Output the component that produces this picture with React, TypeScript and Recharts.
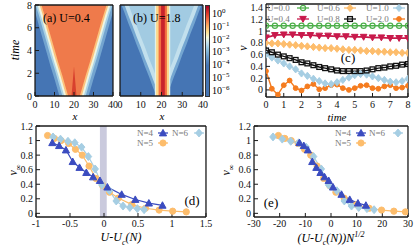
import React from "react";
import { ComposedChart, Area, Line, XAxis, YAxis } from "recharts";

const W = 415;
const H = 249;
const SERIF = "'Liberation Serif', 'DejaVu Serif', serif";

// ---------- (a), (b): light-cone maps, time at which each colour band reaches site x
const sites = [0, 2, 4, 6, 8, 10, 12, 14, 16, 18, 20, 22, 24, 26, 28, 30, 32, 34, 36, 38, 40];
const aMid = [7.4, 6.2, 5.0, 3.8, 2.6, 1.5, 0.3, -0.9, -2.1, -3.2, -4.4, -3.2, -2.1, -0.9, 0.3, 1.5, 2.6, 3.8, 5.0, 6.2, 7.4];
const aLight = [8.2, 7.1, 5.9, 4.7, 3.5, 2.4, 1.2, 0, -1.2, -2.4, -3.5, -2.4, -1.2, 0, 1.2, 2.4, 3.5, 4.7, 5.9, 7.1, 8.2];
const aPale = [8.8, 7.6, 6.5, 5.3, 4.1, 2.9, 1.8, 0.6, -0.6, -1.8, -2.9, -1.8, -0.6, 0.6, 1.8, 2.9, 4.1, 5.3, 6.5, 7.6, 8.8];
const aYellow = [9.4, 8.2, 7.1, 5.9, 4.7, 3.5, 2.4, 1.2, 0, -1.2, -2.4, -1.2, 0, 1.2, 2.4, 3.5, 4.7, 5.9, 7.1, 8.2, 9.4];
const aOrange = [10, 8.8, 7.6, 6.5, 5.3, 4.1, 2.9, 1.8, 0.6, -0.6, -1.8, -0.6, 0.6, 1.8, 2.9, 4.1, 5.3, 6.5, 7.6, 8.8, 10];
const aRedTop = [-9, -9, -9, -9, -9, -9, -9, -9, -9, -1.5, 2.6, -1.5, -9, -9, -9, -9, -9, -9, -9, -9, -9];

const bMid = [8.3, 7.4, 6.4, 5.5, 4.5, 3.6, 2.6, 1.7, 0.7, -0.2, -1.2, -0.2, 0.7, 1.7, 2.6, 3.6, 4.5, 5.5, 6.4, 7.4, 8.3];
const bEdge = [9.0, 8.1, 7.1, 6.2, 5.2, 4.3, 3.3, 2.4, 1.4, 0.5, -0.5, 0.5, 1.4, 2.4, 3.3, 4.3, 5.2, 6.2, 7.1, 8.1, 9.0];
const bInner = [10, 9.0, 8.1, 7.1, 6.2, 5.2, 4.3, 3.3, 2.4, 1.4, 0.5, 1.4, 2.4, 3.3, 4.3, 5.2, 6.2, 7.1, 8.1, 9.0, 10];
// central column of (b): left / right edge of each stripe
const bColLo = [16.8, 17.4, 18.6, 19.8];
const bColHi = [24.2, 23.6, 22.6, 21.6];
const bColColors = ["#e4f1ea", "#fcd88a", "#f26d42", "#c8232c"];

const mapTicksX = [0, 10, 20, 30, 40];
const mapTicksY = [0, 2, 4, 6, 8];
const cbExp = ["0", "−1", "−2", "−3", "−4", "−5", "−6"];

// ---------- (c)
const tCoarse = [0, 0.5, 1, 1.5, 2, 2.5, 3, 3.5, 4, 4.5, 5, 5.5, 6, 6.5, 7, 7.5, 8];
const tFine = [0, 0.33, 0.67, 1, 1.33, 1.67, 2, 2.33, 2.67, 3, 3.33, 3.67, 4, 4.33, 4.67, 5, 5.33, 5.67, 6, 6.33, 6.67, 7, 7.33, 7.67, 8];
const vU00 = [1.09, 1.09, 1.09, 1.09, 1.09, 1.09, 1.09, 1.09, 1.09, 1.09, 1.09, 1.09, 1.09, 1.09, 1.09, 1.09, 1.09];
const vU04 = [0.89, 0.93, 0.94, 0.94, 0.93, 0.93, 0.92, 0.92, 0.91, 0.91, 0.9, 0.9, 0.89, 0.89, 0.88, 0.88, 0.88];
const vU06 = [0.8, 0.79, 0.79, 0.78, 0.77, 0.76, 0.75, 0.74, 0.73, 0.72, 0.71, 0.71, 0.7, 0.69, 0.68, 0.68, 0.67, 0.66, 0.66, 0.65, 0.65, 0.64, 0.64, 0.63, 0.63];
const vU08 = [0.67, 0.64, 0.6, 0.57, 0.54, 0.51, 0.47, 0.45, 0.42, 0.39, 0.37, 0.35, 0.33, 0.32, 0.32, 0.32, 0.32, 0.33, 0.35, 0.37, 0.38, 0.4, 0.41, 0.43, 0.44];
const vU10 = [0.6, 0.55, 0.5, 0.45, 0.4, 0.35, 0.28, 0.24, 0.19, 0.15, 0.11, 0.1, 0.13, 0.17, 0.21, 0.25, 0.27, 0.26, 0.23, 0.2, 0.17, 0.14, 0.13, 0.15, 0.19];
const vU20 = [0.32, 0.02, -0.08, 0.08, 0.16, 0.03, -0.01, 0.06, 0.1, 0.01, 0.03, 0.08, 0.09, 0.03, 0.0, 0.03, 0.07, 0.08, 0.03, 0.02, 0.06, 0.08, 0.03, 0.04, 0.07];
const cTicksX = [0, 1, 2, 3, 4, 5, 6, 7, 8];
const cTicksY = [0, 0.2, 0.4, 0.6, 0.8, 1, 1.2, 1.4];

// ---------- (d), (e)
const n4u = [-0.76, -0.66, -0.56, -0.46, -0.36, -0.26, -0.16, -0.06, 0.05, 0.26, 0.46, 0.66, 0.86];
const n4e = [-12.3, -10.6, -9.0, -7.3, -5.7, -4.1, -2.5, -0.9, 0.8, 4.1, 7.3, 10.5, 13.6];
const n4v = [0.97, 0.93, 0.87, 0.71, 0.63, 0.56, 0.5, 0.45, 0.36, 0.26, 0.19, 0.14, 0.11];
const n5u = [-0.83, -0.73, -0.63, -0.52, -0.42, -0.32, -0.22, -0.12, -0.02, 0.08, 0.21, 0.41, 0.61, 0.81, 1.01, 1.21];
const n5e = [-20.5, -18.0, -15.5, -12.8, -10.3, -7.9, -5.4, -2.9, -0.5, 1.9, 5.1, 10.0, 14.9, 19.7, 24.5, 29.0];
const n5v = [1.07, 1.03, 1.0, 0.96, 0.88, 0.8, 0.65, 0.48, 0.38, 0.29, 0.21, 0.12, 0.07, 0.045, 0.03, 0.02];
const n6u = [-0.75, -0.64, -0.53, -0.43, -0.33, -0.23, -0.13, -0.03, 0.08, 0.18, 0.28, 0.38, 0.49, 0.59];
const n6e = [-22.6, -19.0, -15.7, -12.6, -9.7, -6.8, -3.8, -0.9, 2.3, 5.2, 8.0, 10.8, 14.0, 16.8];
const n6v = [1.05, 1.02, 0.99, 0.97, 0.91, 0.78, 0.61, 0.39, 0.31, 0.17, 0.1, 0.08, 0.065, 0.05];
const critBand = [-0.06, 0.04];
const dTicksX = [-1, -0.5, 0, 0.5, 1, 1.5];
const eTicksX = [-30, -20, -10, 0, 10, 20, 30];
const vTicksY = [0, 0.2, 0.4, 0.6, 0.8, 1, 1.2];

const pts = (xs: number[], vs: number[]) => xs.map((x, i) => ({ x, v: vs[i] }));
const seq = (a: number, b: number, s: number) => {
  const out: number[] = [];
  for (let v = a; v <= b + 1e-9; v += s) out.push(Math.round(v * 1000) / 1000);
  return out;
};

type Box = { x0: number; x1: number; y0: number; y1: number };
const boxA: Box = { x0: 35, x1: 113, y0: 5, y1: 96 };
const boxB: Box = { x0: 120, x1: 203, y0: 5, y1: 96 };
const boxC: Box = { x0: 266, x1: 408, y0: 4, y1: 97 };
const boxD: Box = { x0: 36, x1: 206, y0: 126, y1: 217 };
const boxE: Box = { x0: 254, x1: 408, y0: 126, y1: 217 };
const margin = (b: Box) => ({ left: b.x0, right: W - b.x1, top: b.y0, bottom: H - b.y1 });

// axes need a non-zero size to be drawn; keep it tiny so the plot box stays put
const THIN = 0.01;

function frameAxes(
  xd: number[], yd: number[], xt: number[], yt: number[], xm: number[], ym: number[],
  xLab: boolean, yLab: boolean, xGap = 9,
) {
  const base = { type: "number" as const, allowDataOverflow: true, stroke: "#1a1a1a", interval: 0 as const };
  const border = { stroke: "#1a1a1a", strokeWidth: 1.3 };
  const lab = { fontSize: 10, fill: "#111", fontFamily: SERIF };
  return [
    <XAxis key="xb" xAxisId="x" dataKey="x" {...base} domain={xd} ticks={xt} height={THIN} tickSize={-4} tickMargin={xGap} tick={xLab ? lab : false} axisLine={border} />,
    <XAxis key="xt" xAxisId="xt" orientation="top" {...base} domain={xd} ticks={xt} height={THIN} tickSize={-4} tick={false} axisLine={border} />,
    <XAxis key="xbm" xAxisId="xbm" {...base} domain={xd} ticks={xm} height={THIN} tickSize={-2} tick={false} axisLine={false} />,
    <XAxis key="xtm" xAxisId="xtm" orientation="top" {...base} domain={xd} ticks={xm} height={THIN} tickSize={-2} tick={false} axisLine={false} />,
    <YAxis key="yl" yAxisId="y" {...base} domain={yd} ticks={yt} width={THIN} tickSize={-4} tickMargin={7} tick={yLab ? lab : false} axisLine={border} />,
    <YAxis key="yr" yAxisId="yr" orientation="right" {...base} domain={yd} ticks={yt} width={THIN} tickSize={-4} tick={false} axisLine={border} />,
    <YAxis key="ylm" yAxisId="ylm" {...base} domain={yd} ticks={ym} width={THIN} tickSize={-2} tick={false} axisLine={false} />,
    <YAxis key="yrm" yAxisId="yrm" orientation="right" {...base} domain={yd} ticks={ym} width={THIN} tickSize={-2} tick={false} axisLine={false} />,
  ];
}

type Mark = { kind: string; s: number; fill: string; stroke: string; sw?: number };

function Sym({ kind, x, y, s, fill, stroke, sw = 1 }: Mark & { x: number; y: number }) {
  const p = { fill, stroke, strokeWidth: sw };
  if (kind === "circle") return <circle cx={x} cy={y} r={s} {...p} />;
  if (kind === "square") return <rect x={x - s} y={y - s} width={2 * s} height={2 * s} {...p} />;
  if (kind === "diamond") return <polygon points={`${x},${y - s * 1.2} ${x + s},${y} ${x},${y + s * 1.2} ${x - s},${y}`} {...p} />;
  if (kind === "up") return <polygon points={`${x},${y - s} ${x + s},${y + s * 0.8} ${x - s},${y + s * 0.8}`} {...p} />;
  return <polygon points={`${x},${y + s} ${x + s},${y - s * 0.8} ${x - s},${y - s * 0.8}`} {...p} />;
}

const dots = (m: Mark) => (p: any) =>
  p.cx == null || p.cy == null ? <g key={p.index} /> : <Sym key={p.index} x={p.cx} y={p.cy} {...m} />;

const GREEN = "#4daf4a";
const CRIMSON = "#c8194b";
const LORANGE = "#fdbd6c";
const BLACK = "#111111";
const LBLUE = "#a6cee3";
const ORANGE = "#f57c1f";
const DBLUE = "#3b4cc0";

const mU00: Mark = { kind: "circle", s: 2.6, fill: "none", stroke: GREEN, sw: 1.2 };
const mU04: Mark = { kind: "down", s: 3.3, fill: CRIMSON, stroke: CRIMSON };
const mU06: Mark = { kind: "diamond", s: 3, fill: LORANGE, stroke: LORANGE };
const mU08: Mark = { kind: "square", s: 2.4, fill: "none", stroke: BLACK, sw: 1.3 };
const mU10: Mark = { kind: "diamond", s: 3, fill: LBLUE, stroke: LBLUE };
const mU20: Mark = { kind: "circle", s: 2.4, fill: ORANGE, stroke: ORANGE };
const mN4: Mark = { kind: "up", s: 3.6, fill: DBLUE, stroke: DBLUE };
const mN5: Mark = { kind: "circle", s: 3.1, fill: LORANGE, stroke: LORANGE };
const mN6: Mark = { kind: "diamond", s: 3.3, fill: LBLUE, stroke: LBLUE };

function T({ x, y, children, size = 12, italic = false, rot = 0, anchor = "middle", color = "#000" }: any) {
  const tx = anchor === "middle" ? "-50%" : anchor === "end" ? "-100%" : "0";
  return (
    <div
      style={{
        position: "absolute", left: x, top: y, transform: `translate(${tx}, -50%) rotate(${rot}deg)`,
        fontSize: size, fontStyle: italic ? "italic" : "normal", fontFamily: SERIF, color,
        lineHeight: 1, whiteSpace: "nowrap",
      }}
    >
      {children}
    </div>
  );
}

function Key({ x, y, mx, label, m, color, size = 9, len = 12 }: any) {
  return (
    <>
      <T x={x} y={y} size={size} anchor="start" color="#7a7a7a">{label}</T>
      <svg style={{ position: "absolute", left: mx - len / 2, top: y - 5 }} width={len} height={10}>
        <line x1={0} y1={5} x2={len} y2={5} stroke={color} strokeWidth={1.3} />
        <Sym x={len / 2} y={5} {...m} />
      </svg>
    </>
  );
}

const areaProps = { xAxisId: "x", yAxisId: "y", type: "linear" as const, stroke: "none", fillOpacity: 1, isAnimationActive: false, dot: false, activeDot: false };
const lineProps = { xAxisId: "x", yAxisId: "y", type: "linear" as const, dataKey: "v", isAnimationActive: false, activeDot: false };

export default function App() {
  const rowsA = sites.map((x, i) => ({ x, mid: aMid[i], lb: aLight[i], pale: aPale[i], yel: aYellow[i], org: aOrange[i], red: aRedTop[i] }));
  const rowsB = sites.map((x, i) => ({ x, mid: bMid[i], edge: bEdge[i], inner: bInner[i] }));
  const layer: React.CSSProperties = { position: "absolute", left: 0, top: 0 };

  return (
    <div style={{ position: "fixed", left: 0, top: 0, width: W, height: H, background: "#fff", overflow: "hidden" }}>
      {/* (a) */}
      <div style={layer}>
        <ComposedChart width={W} height={H} margin={margin(boxA)} data={rowsA}>
          <Area {...areaProps} dataKey={() => [-1, 9]} fill="#4575b4" />
          <Area {...areaProps} dataKey={(r: any) => [r.mid, 9]} fill="#73a4cf" />
          <Area {...areaProps} dataKey={(r: any) => [r.lb, 9]} fill="#aad2e6" />
          <Area {...areaProps} dataKey={(r: any) => [r.pale, 9]} fill="#eef5e2" />
          <Area {...areaProps} dataKey={(r: any) => [r.yel, 9]} fill="#fdc27c" />
          <Area {...areaProps} dataKey={(r: any) => [r.org, 9]} fill="#ef7a4b" />
          <Area {...areaProps} dataKey={(r: any) => [-1, r.red]} fill="#d8402e" />
          {frameAxes([0, 40], [0, 8], mapTicksX, mapTicksY, seq(0, 40, 2), seq(0, 8, 0.5), true, true)}
        </ComposedChart>
      </div>

      {/* (b) */}
      <div style={layer}>
        <ComposedChart width={W} height={H} margin={margin(boxB)} data={rowsB}>
          <Area {...areaProps} dataKey={() => [-1, 9]} fill="#4575b4" />
          <Area {...areaProps} dataKey={(r: any) => [r.mid, 9]} fill="#74a6d1" />
          <Area {...areaProps} dataKey={(r: any) => [r.edge, 9]} fill="#c2e0ed" />
          <Area {...areaProps} dataKey={(r: any) => [r.inner, 9]} fill="#a2cbe2" />
          {bColLo.map((lo, i) => (
            <Area key={"col" + i} {...areaProps} data={[{ x: lo }, { x: bColHi[i] }]} dataKey={() => [-1, 9]} fill={bColColors[i]} />
          ))}
          {frameAxes([0, 40], [0, 8], mapTicksX, mapTicksY, seq(0, 40, 2), seq(0, 8, 0.5), true, false)}
        </ComposedChart>
      </div>

      {/* (c) */}
      <div style={layer}>
        <ComposedChart width={W} height={H} margin={margin(boxC)}>
          <Line {...lineProps} data={pts(tFine, vU20)} stroke={ORANGE} strokeWidth={1.4} dot={dots(mU20)} />
          <Line {...lineProps} data={pts(tFine, vU10)} stroke={LBLUE} strokeWidth={1.4} dot={dots(mU10)} />
          <Line {...lineProps} data={pts(tFine, vU08)} stroke={BLACK} strokeWidth={1.4} dot={dots(mU08)} />
          <Line {...lineProps} data={pts(tFine, vU06)} stroke={LORANGE} strokeWidth={1.4} dot={dots(mU06)} />
          <Line {...lineProps} data={pts(tCoarse, vU04)} stroke={CRIMSON} strokeWidth={1.8} dot={dots(mU04)} />
          <Line {...lineProps} data={pts(tCoarse, vU00)} stroke={GREEN} strokeWidth={1.5} dot={dots(mU00)} />
          {frameAxes([0, 8], [-0.12, 1.46], cTicksX, cTicksY, seq(0, 8, 0.5), seq(-0.1, 1.4, 0.1), true, true, 8)}
        </ComposedChart>
      </div>

      {/* (d) */}
      <div style={layer}>
        <ComposedChart width={W} height={H} margin={margin(boxD)}>
          <Area {...areaProps} data={[{ x: critBand[0] }, { x: critBand[1] }]} dataKey={() => [-1, 2]} fill="#cacadd" />
          <Line {...lineProps} data={pts(n5u, n5v)} stroke={LORANGE} strokeWidth={1.2} dot={dots(mN5)} />
          <Line {...lineProps} data={pts(n6u, n6v)} stroke={LBLUE} strokeWidth={1.2} dot={dots(mN6)} />
          <Line {...lineProps} data={pts(n4u, n4v)} stroke={DBLUE} strokeWidth={1.2} dot={dots(mN4)} />
          {frameAxes([-1, 1.5], [-0.05, 1.2], dTicksX, vTicksY, seq(-1, 1.5, 0.1), seq(0, 1.2, 0.1), true, true, 7)}
        </ComposedChart>
      </div>

      {/* (e) */}
      <div style={layer}>
        <ComposedChart width={W} height={H} margin={margin(boxE)}>
          <Line {...lineProps} data={pts(n5e, n5v)} stroke={LORANGE} strokeWidth={1.2} dot={dots(mN5)} />
          <Line {...lineProps} data={pts(n6e, n6v)} stroke={LBLUE} strokeWidth={1.2} dot={dots(mN6)} />
          <Line {...lineProps} data={pts(n4e, n4v)} stroke={DBLUE} strokeWidth={1.2} dot={dots(mN4)} />
          {frameAxes([-30, 30], [-0.05, 1.2], eTicksX, vTicksY, seq(-30, 30, 2), seq(0, 1.2, 0.1), true, true, 7)}
        </ComposedChart>
      </div>

      {/* colour bar */}
      <div
        style={{
          position: "absolute", left: 205, top: 5, width: 5, height: 92, boxSizing: "border-box", border: "0.5px solid #333",
          background:
            "linear-gradient(to bottom, #a50026 0%, #d73027 7%, #f46d43 15%, #fdae61 22%, #fee090 29%, #f4f9d9 35%, #c5e3ef 41%, #91c3de 48%, #6a9ccb 56%, #4575b4 66%, #4575b4 100%)",
        }}
      />
      {cbExp.map((e, i) => (
        <T key={e} x={212} y={13 + i * 12.8} size={10} anchor="start">
          10<sup style={{ fontSize: 7, verticalAlign: "4px" }}>{e}</sup>
        </T>
      ))}

      {/* panel texts */}
      <T x={15} y={50} italic rot={-90}>time</T>
      <T x={75} y={116} italic size={11}>x</T>
      <T x={162} y={116} italic size={11}>x</T>
      <T x={43} y={18} size={12} anchor="start">(a) U=0.4</T>
      <T x={133} y={18} size={12} anchor="start">(b) U=1.8</T>

      <T x={243} y={48} italic rot={-90}>v</T>
      <T x={337} y={117} italic size={11}>time</T>
      <T x={348} y={57} size={13}>(c)</T>
      <Key x={267} y={8} mx={303} label="U=0.0" m={mU00} color={GREEN} />
      <Key x={317} y={8} mx={350} label="U=0.6" m={mU06} color={LORANGE} />
      <Key x={366} y={8} mx={399} label="U=1.0" m={mU10} color={LBLUE} />
      <Key x={267} y={19} mx={303} label="U=0.4" m={mU04} color={CRIMSON} />
      <Key x={317} y={19} mx={350} label="U=0.8" m={mU08} color={BLACK} />
      <Key x={366} y={19} mx={399} label="U=2.0" m={mU20} color={ORANGE} />

      <T x={15} y={170} italic rot={-90}>
        v<sub style={{ fontSize: 8 }}>∞</sub>
      </T>
      <T x={121} y={239} italic>
        U-U<sub style={{ fontSize: 8 }}>c</sub>(N)
      </T>
      <T x={192} y={200} size={13}>(d)</T>
      <Key x={137} y={133} mx={163} label="N=4" m={mN4} color={DBLUE} len={10} />
      <Key x={172} y={133} mx={199} label="N=6" m={mN6} color={LBLUE} len={10} />
      <Key x={137} y={142.5} mx={163} label="N=5" m={mN5} color={LORANGE} len={10} />

      <T x={228} y={170} italic rot={-90}>
        v<sub style={{ fontSize: 8 }}>∞</sub>
      </T>
      <T x={331} y={239} italic>
        (U-U<sub style={{ fontSize: 8 }}>c</sub>(N))N<sup style={{ fontSize: 8 }}>1/2</sup>
      </T>
      <T x={271} y={202} size={13}>(e)</T>
      <Key x={335} y={133} mx={361} label="N=4" m={mN4} color={DBLUE} len={10} />
      <Key x={369} y={133} mx={398} label="N=6" m={mN6} color={LBLUE} len={10} />
      <Key x={335} y={142.5} mx={361} label="N=5" m={mN5} color={LORANGE} len={10} />
    </div>
  );
}
